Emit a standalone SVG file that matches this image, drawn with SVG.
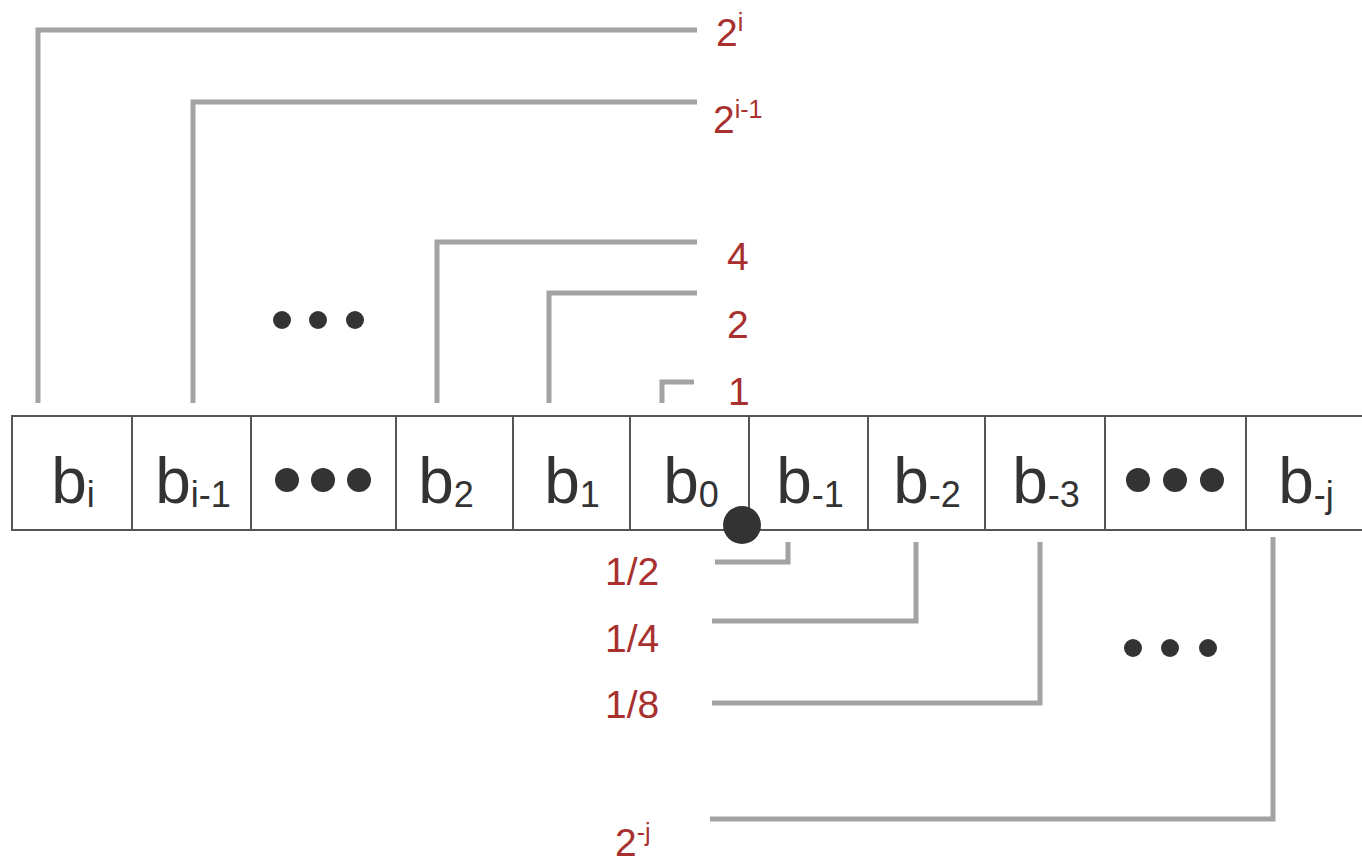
<svg xmlns="http://www.w3.org/2000/svg" width="1362" height="864" viewBox="0 0 1362 864">
<style>
.conn{fill:none;stroke:#a3a3a3;stroke-width:5;stroke-linejoin:miter;stroke-linecap:butt}
.cell{fill:#fff;stroke:#555;stroke-width:2}
.bt{font-family:"Liberation Sans",Arial,sans-serif;font-size:64px;fill:#333;text-anchor:middle}
.sub{font-size:36px}
.lbl{font-family:"Liberation Sans",Arial,sans-serif;font-size:39px;fill:#a8312f}
.sup{font-size:25px}
.dot{fill:#333}
</style>
<rect width="1362" height="864" fill="#fff"/>
<g id="connectors">
<polyline class="conn" points="38,403 38,30 697,30"/>
<polyline class="conn" points="193,403 193,102 697,102"/>
<polyline class="conn" points="437,403 437,242 697,242"/>
<polyline class="conn" points="549,403 549,293 697,293"/>
<polyline class="conn" points="662,403 662,382 694,382"/>
<polyline class="conn" points="788,542 788,562 715,562"/>
<polyline class="conn" points="916,542 916,621 712,621"/>
<polyline class="conn" points="1040,542 1040,703 712,703"/>
<polyline class="conn" points="1273,537 1273,819 710,819"/>
</g>
<g id="cell-bi"><rect class="cell" x="12" y="416" width="120" height="114"/><text class="bt" x="73" y="503">b<tspan class="sub" dy="4">i</tspan></text></g>
<g id="cell-bi1"><rect class="cell" x="132" y="416" width="119" height="114"/><text class="bt" x="193" y="503">b<tspan class="sub" dy="4">i-1</tspan></text></g>
<g id="cell-dots1"><rect class="cell" x="251" y="416" width="145" height="114"/><circle class="dot" cx="287" cy="480" r="12"/><circle class="dot" cx="323" cy="480" r="12"/><circle class="dot" cx="359" cy="480" r="12"/></g>
<g id="cell-b2"><rect class="cell" x="396" y="416" width="117" height="114"/><text class="bt" x="446" y="503">b<tspan class="sub" dy="4">2</tspan></text></g>
<g id="cell-b1"><rect class="cell" x="513" y="416" width="117" height="114"/><text class="bt" x="572" y="503">b<tspan class="sub" dy="4">1</tspan></text></g>
<g id="cell-b0"><rect class="cell" x="630" y="416" width="119" height="114"/><text class="bt" x="691" y="503">b<tspan class="sub" dy="4">0</tspan></text></g>
<g id="cell-bm1"><rect class="cell" x="749" y="416" width="119" height="114"/><text class="bt" x="810" y="503">b<tspan class="sub" dy="4">-1</tspan></text></g>
<g id="cell-bm2"><rect class="cell" x="868" y="416" width="117" height="114"/><text class="bt" x="927" y="503">b<tspan class="sub" dy="4">-2</tspan></text></g>
<g id="cell-bm3"><rect class="cell" x="985" y="416" width="120" height="114"/><text class="bt" x="1046" y="503">b<tspan class="sub" dy="4">-3</tspan></text></g>
<g id="cell-dots2"><rect class="cell" x="1105" y="416" width="141" height="114"/><circle class="dot" cx="1138" cy="480" r="12"/><circle class="dot" cx="1175" cy="480" r="12"/><circle class="dot" cx="1212" cy="480" r="12"/></g>
<g id="cell-bmj"><rect class="cell" x="1246" y="416" width="118" height="114"/><text class="bt" x="1306" y="503">b<tspan class="sub" dy="4">-j</tspan></text></g>
<g id="binary-point"><circle class="dot" cx="742" cy="525" r="19"/></g>
<g id="dots-top"><circle class="dot" cx="282" cy="320" r="9"/><circle class="dot" cx="318" cy="320" r="9"/><circle class="dot" cx="355" cy="320" r="9"/></g>
<g id="dots-bottom"><circle class="dot" cx="1133" cy="648" r="9"/><circle class="dot" cx="1170" cy="648" r="9"/><circle class="dot" cx="1208" cy="648" r="9"/></g>
<g id="label-2i"><text class="lbl" x="716" y="46">2<tspan class="sup" dy="-15">i</tspan></text></g>
<g id="label-2i1"><text class="lbl" x="713" y="133">2<tspan class="sup" dy="-15">i-1</tspan></text></g>
<g id="label-4"><text class="lbl" x="727" y="270">4</text></g>
<g id="label-2"><text class="lbl" x="727" y="338">2</text></g>
<g id="label-1"><text class="lbl" x="728" y="405">1</text></g>
<g id="label-half"><text class="lbl" x="605" y="585">1/2</text></g>
<g id="label-quarter"><text class="lbl" x="605" y="652">1/4</text></g>
<g id="label-eighth"><text class="lbl" x="605" y="718">1/8</text></g>
<g id="label-2mj"><text class="lbl" x="615" y="856">2<tspan class="sup" dy="-15">-j</tspan></text></g>
</svg>
